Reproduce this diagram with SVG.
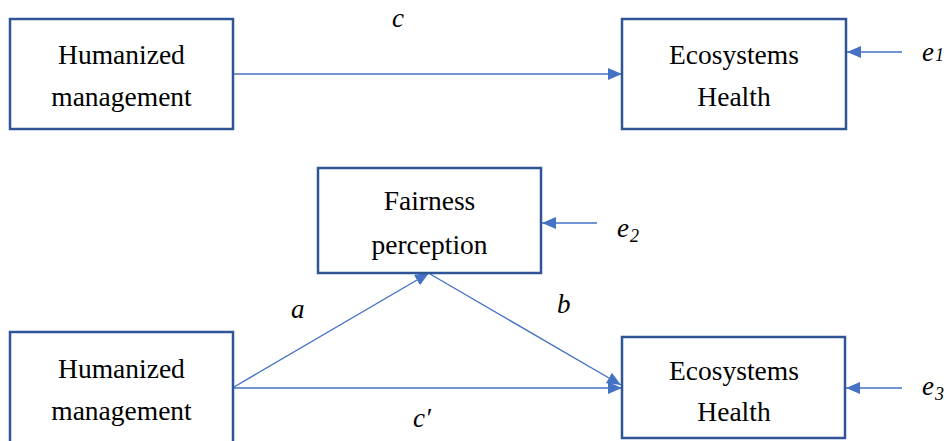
<svg xmlns="http://www.w3.org/2000/svg" width="947" height="441" viewBox="0 0 947 441">
<style>
.box{fill:#ffffff;stroke:#2F5597;stroke-width:2.5}
.t{font-size:27.5px;fill:#000;text-anchor:middle}
.lbl{font-size:27px;font-style:italic;fill:#000}
.sub{font-size:18px}
.c{stroke:#4472C4;stroke-width:1.4;fill:none;marker-end:url(#ah)}
</style>
<defs>
<marker id="ah" viewBox="0 0 14 12" refX="14" refY="6" markerWidth="14" markerHeight="12" markerUnits="userSpaceOnUse" orient="auto">
<path d="M0,0 L14,6 L0,12 Z" fill="#4472C4"/>
</marker>
</defs>
<g id="connectors">
<line class="c" x1="234" y1="74" x2="622" y2="74"/>
<line class="c" x1="902" y1="52" x2="847" y2="52"/>
<line class="c" x1="597" y1="223" x2="542" y2="223"/>
<line class="c" x1="234" y1="387" x2="429" y2="273"/>
<line class="c" x1="430" y1="274" x2="621" y2="385"/>
<line class="c" x1="234" y1="388" x2="622" y2="388"/>
<line class="c" x1="902" y1="388" x2="846" y2="388"/>
</g>
<g id="labels" font-family="Liberation Serif, DejaVu Serif, serif">
<text class="lbl" x="392" y="27">c</text>
<text class="lbl" x="291" y="318">a</text>
<text class="lbl" x="557" y="313">b</text>
<text class="lbl" x="413" y="427">c′</text>
<text class="lbl" x="922" y="61">e<tspan class="sub" dx="1" dy="0">1</tspan></text>
<text class="lbl" x="617" y="237">e<tspan class="sub" dx="1" dy="5">2</tspan></text>
<text class="lbl" x="922" y="395">e<tspan class="sub" dx="1" dy="5">3</tspan></text>
</g>
<g id="nodes" font-family="Liberation Serif, DejaVu Serif, serif">
<g id="n1">
<rect class="box" x="10" y="19" width="223" height="110"/>
<text class="t" x="121.5" y="64">Humanized</text>
<text class="t" x="121.5" y="106">management</text>
</g>
<g id="n2">
<rect class="box" x="622" y="19" width="224" height="110"/>
<text class="t" x="734" y="64">Ecosystems</text>
<text class="t" x="734" y="106">Health</text>
</g>
<g id="n3">
<rect class="box" x="318" y="168" width="223" height="105"/>
<text class="t" x="429.5" y="210">Fairness</text>
<text class="t" x="429.5" y="254">perception</text>
</g>
<g id="n4">
<rect class="box" x="10" y="332" width="223" height="120"/>
<text class="t" x="121.5" y="378">Humanized</text>
<text class="t" x="121.5" y="420">management</text>
</g>
<g id="n5">
<rect class="box" x="622" y="337" width="223" height="101"/>
<text class="t" x="734" y="380">Ecosystems</text>
<text class="t" x="734" y="421">Health</text>
</g>
</g>
</svg>
